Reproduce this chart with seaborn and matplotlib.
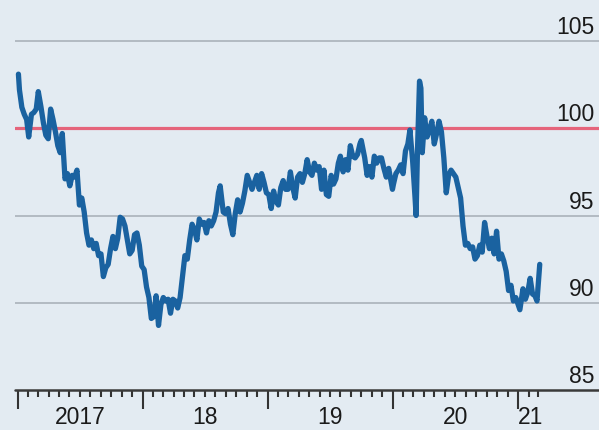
import pandas as pd
import numpy as np
import matplotlib.pyplot as plt
import matplotlib.dates as mdates
import seaborn as sns

# weekly values
dates = [
    "2017-01-03", "2017-01-06", "2017-01-13", "2017-01-20", "2017-01-27", "2017-02-02",
    "2017-02-10", "2017-02-17", "2017-02-24", "2017-03-02", "2017-03-10", "2017-03-17",
    "2017-03-24", "2017-03-31", "2017-04-07", "2017-04-14", "2017-04-21", "2017-04-28",
    "2017-05-05", "2017-05-11", "2017-05-19", "2017-05-26", "2017-06-02", "2017-06-09",
    "2017-06-16", "2017-06-23", "2017-06-30", "2017-07-07", "2017-07-14", "2017-07-21",
    "2017-07-28", "2017-08-04", "2017-08-11", "2017-08-18", "2017-08-25", "2017-09-01",
    "2017-09-08", "2017-09-15", "2017-09-22", "2017-09-29", "2017-10-06", "2017-10-13",
    "2017-10-20", "2017-10-27", "2017-11-03", "2017-11-10", "2017-11-17", "2017-11-24",
    "2017-12-01", "2017-12-08", "2017-12-15", "2017-12-22", "2017-12-29",
    "2018-01-05", "2018-01-12", "2018-01-19", "2018-01-26", "2018-02-02", "2018-02-09",
    "2018-02-16", "2018-02-23", "2018-03-02", "2018-03-09", "2018-03-16", "2018-03-23",
    "2018-03-30", "2018-04-06", "2018-04-13", "2018-04-20", "2018-04-27", "2018-05-04",
    "2018-05-11", "2018-05-18", "2018-05-25", "2018-06-01", "2018-06-08", "2018-06-15",
    "2018-06-22", "2018-06-29", "2018-07-06", "2018-07-13", "2018-07-20", "2018-07-27",
    "2018-08-03", "2018-08-10", "2018-08-15", "2018-08-24", "2018-08-31", "2018-09-07",
    "2018-09-14", "2018-09-21", "2018-09-28", "2018-10-05", "2018-10-12", "2018-10-19",
    "2018-10-26", "2018-11-02", "2018-11-09", "2018-11-16", "2018-11-23", "2018-11-30",
    "2018-12-07", "2018-12-14", "2018-12-21", "2018-12-28",
    "2019-01-04", "2019-01-11", "2019-01-18", "2019-01-25", "2019-02-01", "2019-02-08",
    "2019-02-15", "2019-02-22", "2019-03-01", "2019-03-08", "2019-03-15", "2019-03-22",
    "2019-03-29", "2019-04-05", "2019-04-12", "2019-04-19", "2019-04-26", "2019-05-03",
    "2019-05-10", "2019-05-17", "2019-05-24", "2019-05-31", "2019-06-07", "2019-06-14",
    "2019-06-21", "2019-06-28", "2019-07-05", "2019-07-12", "2019-07-19", "2019-07-26",
    "2019-08-01", "2019-08-09", "2019-08-16", "2019-08-23", "2019-08-30", "2019-09-06",
    "2019-09-13", "2019-09-20", "2019-09-27", "2019-10-01", "2019-10-11", "2019-10-18",
    "2019-10-25", "2019-11-01", "2019-11-08", "2019-11-15", "2019-11-22", "2019-11-29",
    "2019-12-06", "2019-12-13", "2019-12-20", "2019-12-31",
    "2020-01-03", "2020-01-10", "2020-01-17", "2020-01-24", "2020-01-31", "2020-02-07",
    "2020-02-14", "2020-02-20", "2020-02-28", "2020-03-06", "2020-03-09", "2020-03-13",
    "2020-03-19", "2020-03-23", "2020-03-27", "2020-04-03", "2020-04-10", "2020-04-17",
    "2020-04-24", "2020-05-01", "2020-05-08", "2020-05-15", "2020-05-22", "2020-05-29",
    "2020-06-05", "2020-06-12", "2020-06-19", "2020-06-26", "2020-07-03", "2020-07-10",
    "2020-07-17", "2020-07-24", "2020-07-31", "2020-08-07", "2020-08-14", "2020-08-21",
    "2020-08-28", "2020-09-04", "2020-09-11", "2020-09-18", "2020-09-25", "2020-10-02",
    "2020-10-09", "2020-10-16", "2020-10-23", "2020-10-30", "2020-11-06", "2020-11-13",
    "2020-11-20", "2020-11-27", "2020-12-04", "2020-12-11", "2020-12-18", "2020-12-25",
    "2021-01-06", "2021-01-15", "2021-01-22", "2021-01-29", "2021-02-05", "2021-02-12",
    "2021-02-19", "2021-02-25", "2021-03-05",
]
values = [
    103.1, 102.2, 101.2, 100.8, 100.5, 99.5,
    100.8, 100.9, 101.1, 102.1, 101.2, 100.3,
    99.6, 99.4, 101.1, 100.5, 99.8, 99.0,
    98.6, 99.7, 97.1, 97.4, 96.7, 97.3,
    97.2, 97.6, 95.6, 96.0, 95.2, 94.0,
    93.3, 93.6, 93.1, 93.4, 92.7, 92.8,
    91.5, 92.0, 92.2, 93.1, 93.8, 93.1,
    93.7, 94.9, 94.8, 94.4, 93.6, 92.8,
    93.0, 93.9, 94.0, 93.3, 92.1,
    91.9, 90.9, 90.3, 89.1, 89.2, 90.4,
    88.7, 89.9, 90.3, 90.1, 90.2, 89.4,
    90.2, 90.1, 89.7, 90.3, 91.5, 92.7,
    92.5, 93.6, 94.5, 94.2, 93.6, 94.8,
    94.5, 94.6, 94.0, 94.7, 94.4, 94.7,
    95.2, 96.3, 96.7, 95.2, 95.1, 95.4,
    94.5, 93.9, 95.1, 95.9, 95.2, 95.7,
    96.4, 97.3, 96.9, 96.5, 96.9, 97.3,
    96.5, 97.4, 96.9, 96.3,
    96.2, 95.4, 96.4, 95.8, 95.6, 96.6,
    97.0, 96.5, 96.5, 97.5, 96.6, 96.0,
    97.2, 97.4, 96.9, 97.4, 98.2, 97.5,
    97.3, 98.0, 97.6, 97.8, 96.5, 97.6,
    96.2, 96.1, 97.3, 96.8, 97.1, 98.0,
    98.4, 97.5, 98.2, 97.6, 99.0, 98.4,
    98.3, 98.5, 99.1, 99.3, 98.3, 97.3,
    97.8, 97.2, 98.4, 98.0, 98.3, 98.3,
    97.7, 97.2, 97.7, 96.5,
    96.8, 97.4, 97.6, 97.9, 97.4, 98.7,
    99.1, 99.9, 98.1, 96.0, 95.0, 98.7,
    102.7, 102.3, 98.6, 100.6, 99.5, 99.9,
    100.4, 99.1, 99.7, 100.4, 99.8, 98.3,
    96.3, 97.3, 97.6, 97.4, 97.2, 96.6,
    96.0, 94.4, 93.3, 93.4, 93.1, 93.2,
    92.5, 92.7, 93.3, 92.9, 94.6, 93.8,
    93.1, 93.7, 92.8, 94.1, 92.5, 92.8,
    92.4, 91.8, 90.7, 91.0, 90.1, 90.3,
    89.6, 90.8, 90.2, 90.6, 91.4, 90.5,
    90.4, 90.1, 92.2,
]

y_ticks = [85, 90, 95, 100, 105]
year_labels = ["2017", "18", "19", "20", "21"]
label_dates = ["2017-07-02", "2018-07-02", "2019-07-02", "2020-07-02", "2021-02-07"]

df = pd.DataFrame({"date": pd.to_datetime(dates), "value": values})

bg = "#e3ebf2"
sns.set_style("white")
plt.rcParams["font.family"] = ["Liberation Sans", "DejaVu Sans"]

fig = plt.figure(figsize=(5.99, 4.31), dpi=100, facecolor=bg)
ax = fig.add_axes([15 / 599, 1 - 391 / 431, 1 - 15 / 599, 391 / 431])
ax.set_facecolor(bg)

# grid lines by hand, 100 in red, 85 is the axis
for v in y_ticks[1:]:
    if v == 100:
        ax.axhline(v, color="#e5647b", lw=2.3, zorder=2)
    else:
        ax.axhline(v, color="#aab2ba", lw=1.2, zorder=1)
ax.axhline(85, color="#3a3a3a", lw=1.8, zorder=3, clip_on=False)

sns.lineplot(data=df, x="date", y="value", ax=ax, color="#1a62a0", lw=3.8, zorder=4)

ax.set_ylim(85, 85 + 391 / 17.45)
ax.set_xlim(pd.Timestamp("2016-12-24"), pd.Timestamp("2021-08-25"))

for s in ax.spines.values():
    s.set_visible(False)
ax.set_yticks([])
ax.set_xlabel("")
ax.set_ylabel("")

# ticks: year boundaries long, months short
ax.set_xticks(pd.date_range("2017-01-01", "2021-01-01", freq="YS"))
ax.set_xticks(pd.date_range("2017-01-01", "2021-03-01", freq="MS"), minor=True)
ax.tick_params(axis="x", which="major", bottom=True, length=14, width=1.5,
               color="#333333", labelbottom=False)
ax.tick_params(axis="x", which="minor", bottom=True, length=5, width=1.5,
               color="#333333", labelbottom=False)

for lab, d in zip(year_labels, label_dates):
    ax.annotate(lab, xy=(pd.Timestamp(d), 0), xycoords=("data", "axes fraction"),
                xytext=(0, -10.5), textcoords="offset points",
                ha="center", va="top", fontsize=16.5, color="#1a1a1a")

for v in y_ticks:
    ax.annotate(str(v), xy=(1, v), xycoords=("axes fraction", "data"),
                xytext=(-3, 2), textcoords="offset points",
                ha="right", va="bottom", fontsize=16.5, color="#1a1a1a")

fig.savefig("out.png", dpi=100, facecolor=bg)
